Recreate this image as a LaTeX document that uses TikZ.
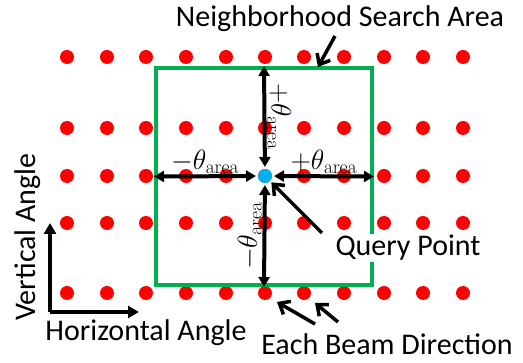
\documentclass[tikz,border=0pt]{standalone}
\usepackage{fix-cm}
\usepackage[no-math]{fontspec}
\setmainfont{Carlito}
\usetikzlibrary{arrows.meta,positioning,calc}
\definecolor{areagreen}{RGB}{0,176,80}
\definecolor{querycyan}{RGB}{0,176,240}

\begin{document}
\begin{tikzpicture}[x=1pt, y=-1pt, line width=4pt,
    beam/.style={circle, fill=red, inner sep=0pt, minimum size=14pt},
    dirarrow/.style={{Triangle[length=10pt,width=11pt]}-{Triangle[length=10pt,width=11pt]}},
    callout/.style={-{Straight Barb[length=9pt,width=15pt]}, line width=3.5pt},
    lbl/.style={font=\fontsize{30}{32}\selectfont},
    mlbl/.style={font=\fontsize{28}{30}\selectfont, inner sep=1pt}]
  \useasboundingbox (0,0) rectangle (523,363);
  % beam directions
  \foreach \y in {57,128,176,223,293}
    \foreach \x in {67,107,146,186,226,265,304,344,384,423,463}
      \node[beam] at (\x,\y) {};
  % search area and query point
  \node[draw=areagreen, line width=4pt, minimum width=216pt, minimum height=217pt, inner sep=0pt] (area) at (264,176.5) {};
  \node[circle, fill=querycyan, inner sep=0pt, minimum size=14pt] (q) at (265,176) {};
  \draw[dirarrow] (q) -- node[mlbl, midway, above] {$-\theta_{\mathrm{area}}$} (area.west);
  \draw[dirarrow] (q) -- node[mlbl, midway, above] {$+\theta_{\mathrm{area}}$} (area.east);
  \draw[dirarrow] (q) -- node[mlbl, midway, sloped, above] {$+\theta_{\mathrm{area}}$} (area.north);
  \draw[dirarrow] (area.south) -- node[mlbl, midway, sloped, above] {$-\theta_{\mathrm{area}}$} (q);
  % callouts
  \node[lbl] (nsa) at (340,19) {Neighborhood Search Area};
  \coordinate (nsa-tail) at (335,36);
  \coordinate (nsa-tip) at (318,67);
  \draw[callout] (nsa-tail) -- (nsa-tip);
  \node[lbl, fill=white, inner sep=1pt] (qp) at (408,248) {Query Point};
  \coordinate (qp-tail) at (322,233);
  \draw[callout] (qp-tail) -- (q);
  \node[lbl, fill=white, inner sep=1pt] (ebd) at (387,344) {Each Beam Direction};
  \coordinate (ebd-tail1) at (315,324);
  \coordinate (ebd-tip1) at (277,302);
  \coordinate (ebd-tail2) at (338,322);
  \coordinate (ebd-tip2) at (315,303);
  \draw[callout] (ebd-tail1) -- (ebd-tip1);
  \draw[callout] (ebd-tail2) -- (ebd-tip2);
  % angle axes
  \coordinate (origin) at (50,312);
  \coordinate (vtip) at (50,223);
  \coordinate (htip) at (139,312);
  \draw[-{Triangle[length=11pt,width=12pt]}] (origin) -- (vtip);
  \draw[-{Triangle[length=11pt,width=12pt]}] (origin) -- (htip);
  \node[lbl] (hax) at (146,333) {Horizontal Angle};
  \node[lbl, rotate=90] (vax) at (28,237) {Vertical Angle};
\end{tikzpicture}
\end{document}
